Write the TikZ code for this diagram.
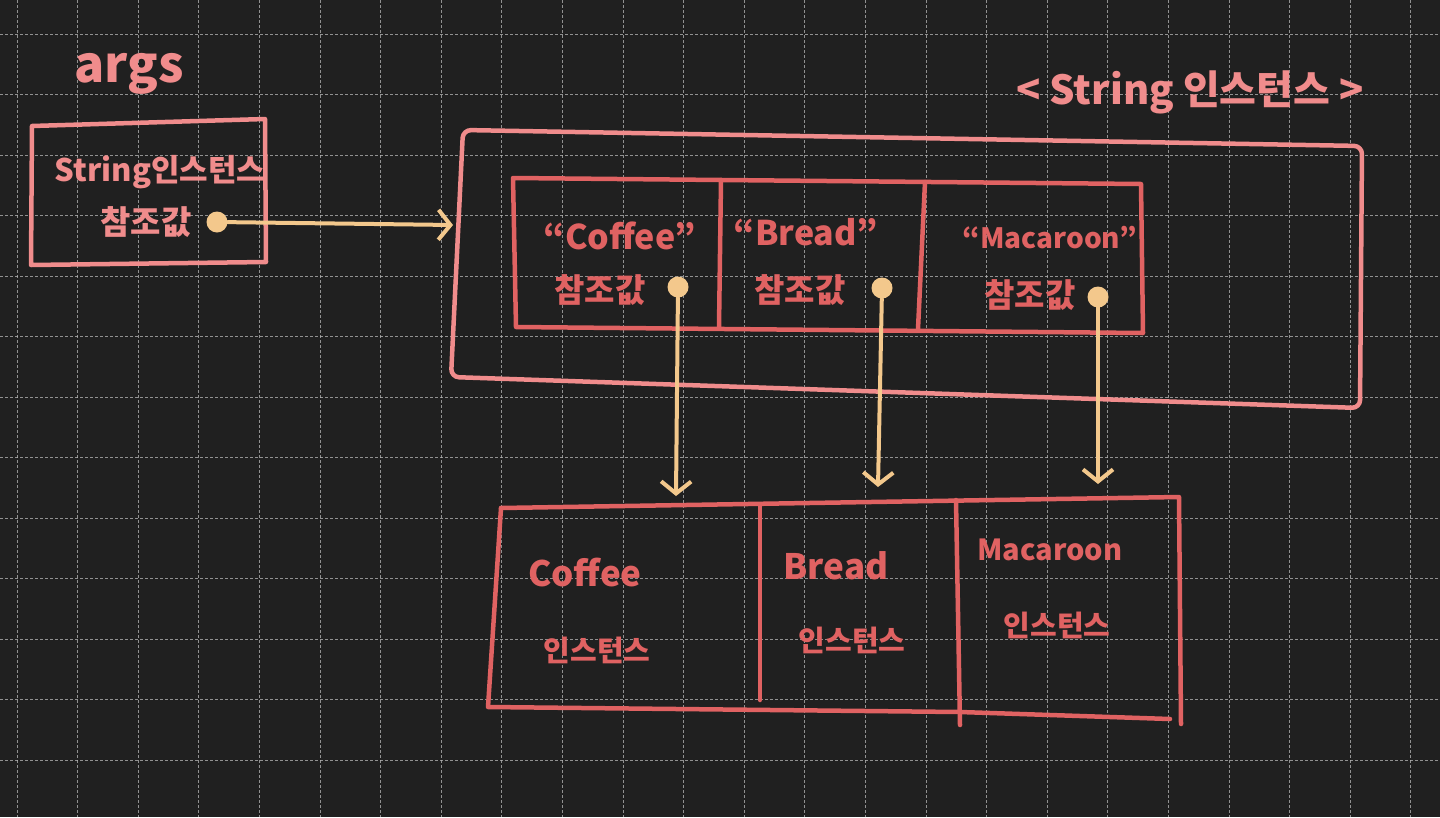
\documentclass[tikz,border=0pt]{standalone}
\usepackage{fontspec}
\setmainfont{Noto Sans CJK KR}
\usetikzlibrary{arrows.meta}
\definecolor{bgc}{HTML}{202020}
\definecolor{gridc}{HTML}{B8B8B8}
\definecolor{pinkc}{HTML}{F08C8C}
\definecolor{redc}{HTML}{E06262}
\definecolor{peachc}{HTML}{F3C88C}
\tikzset{
  gridline/.style={draw=gridc, line width=1pt, dash pattern=on 2.5pt off 2.5pt, opacity=0.75},
  pinkbox/.style={draw=pinkc, line width=4.5pt, line join=round, line cap=round},
  redbox/.style={draw=redc, line width=4.5pt, line join=round, line cap=round},
  arr/.style={draw=peachc, line width=4pt, line cap=round, -{Straight Barb[length=12pt,width=30pt,line width=4pt]}},
  dotc/.style={circle, fill=peachc, minimum size=21pt, inner sep=0pt},
  pinktxt/.style={inner sep=0pt, text=pinkc},
  redtxt/.style={inner sep=0pt, text=redc},
}
\newcommand{\fs}[1]{\fontsize{#1}{#1}\selectfont\bfseries}
\begin{document}
\begin{tikzpicture}[x=1pt,y=-1pt]
\useasboundingbox (0,0) rectangle (1440,817);
\fill[bgc] (0,0) rectangle (1440,817);
\foreach \i in {0,...,23} \draw[gridline] ({17+60.6*\i},0) -- ({17+60.6*\i},817);
\foreach \j in {0,...,12} \draw[gridline] (0,{34+60.5*\j}) -- (1440,{34+60.5*\j});

% titles
\node[pinktxt, font=\fs{50}] (argsT) at (129,74) {args};
\node[pinktxt, font=\fs{40}] (strT) at (1190,92) {< String 인스턴스 >};

% args box
\draw[pinkbox] (32,126) -- (265,119) -- (266,262) -- (31,265) -- cycle;
\node[pinktxt, font=\fs{31}] (argsL1) at (160,172) {String인스턴스};
\node[pinktxt, font=\fs{33}] (argsL2) at (146,222) {참조값};
\node[dotc] (d0) at (217,222) {};

% outer String-array box
\draw[pinkbox, rounded corners=8pt] (463,130) -- (1362,146) -- (1360,408) -- (451,377) -- cycle;
\coordinate (t0) at (453,225);

% inner row of references
\draw[redbox] (513,178) -- (1141,184) -- (1143,333) -- (516,327) -- cycle;
\draw[redbox] (721,180) -- (719,327);
\draw[redbox] (925,182) -- (918,329);
\node[redtxt, font=\fs{34}] (r1a) at (620,236) {“Coffee”};
\node[redtxt, font=\fs{33}] (r1b) at (600,290) {참조값};
\node[redtxt, font=\fs{34}] (r2a) at (806,232) {“Bread”};
\node[redtxt, font=\fs{33}] (r2b) at (800,290) {참조값};
\node[redtxt, font=\fs{28}] (r3a) at (1050,238) {“Macaroon”};
\node[redtxt, font=\fs{33}] (r3b) at (1030,295) {참조값};
\node[dotc] (d1) at (678,287) {};
\node[dotc] (d2) at (882,288) {};
\node[dotc] (d3) at (1098,297) {};

% bottom instances table
\draw[redbox] (501,508) -- (1179,497) -- (1181,724);
\draw[redbox] (501,508) -- (488,707) -- (960,712) -- (1170,719);
\draw[redbox] (760,506) -- (760,700);
\draw[redbox] (956,500) -- (960,725);
\node[redtxt, font=\fs{35}] (c1a) at (585,573) {Coffee};
\node[redtxt, font=\fs{29}] (c1b) at (597,650) {인스턴스};
\node[redtxt, font=\fs{35}] (c2a) at (836,566) {Bread};
\node[redtxt, font=\fs{29}] (c2b) at (852,640) {인스턴스};
\node[redtxt, font=\fs{29}] (c3a) at (1050,550) {Macaroon};
\node[redtxt, font=\fs{29}] (c3b) at (1057,625) {인스턴스};

\coordinate (t1) at (676,496);
\coordinate (t2) at (878,487);
\coordinate (t3) at (1098,484);

% connectors
\draw[arr] (d0) -- (t0);
\draw[arr] (d1) -- (t1);
\draw[arr] (d2) -- (t2);
\draw[arr] (d3) -- (t3);
\end{tikzpicture}
\end{document}
